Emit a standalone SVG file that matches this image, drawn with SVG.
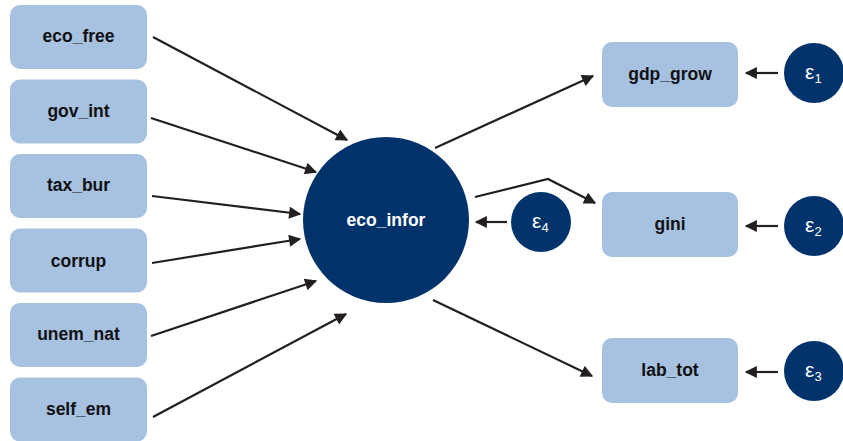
<svg xmlns="http://www.w3.org/2000/svg" width="843" height="441" viewBox="0 0 843 441">
<defs>
<style>
.box{fill:#a7c1e1;}
.lat{fill:#00336b;}
.lbl{font-family:"Liberation Sans",Arial,sans-serif;font-weight:bold;font-size:17.5px;fill:#111;text-anchor:middle;}
.lbl2{font-family:"Liberation Sans",Arial,sans-serif;font-weight:bold;font-size:17.5px;fill:#fff;text-anchor:middle;}
.eps{font-family:"Liberation Sans",Arial,sans-serif;font-size:21px;fill:#fff;}
.sub{font-size:13px;}
.conn{stroke:#231f20;stroke-width:2.2;fill:none;marker-end:url(#ah);}
</style>
<marker id="ah" viewBox="0 0 10 10" refX="9" refY="5" markerWidth="6" markerHeight="5.5" markerUnits="strokeWidth" orient="auto">
<path d="M0,0 L10,5 L0,10 z" fill="#231f20"/>
</marker>
</defs>
<g id="connectors">
<line class="conn" x1="153" y1="37" x2="347" y2="140"/>
<line class="conn" x1="151" y1="118" x2="316" y2="172"/>
<line class="conn" x1="152" y1="196" x2="300" y2="214"/>
<line class="conn" x1="152" y1="263" x2="300" y2="239"/>
<line class="conn" x1="151" y1="336" x2="316" y2="281"/>
<line class="conn" x1="153" y1="417" x2="346" y2="314"/>
<line class="conn" x1="435" y1="148" x2="593" y2="76"/>
<polyline class="conn" points="475,197 548,179 595,203"/>
<line class="conn" x1="433" y1="300" x2="592" y2="376"/>
<line class="conn" x1="507" y1="222" x2="476" y2="222"/>
<line class="conn" x1="778" y1="73" x2="746" y2="73"/>
<line class="conn" x1="778" y1="226" x2="746" y2="226"/>
<line class="conn" x1="778" y1="372" x2="746" y2="372"/>
</g>
<g id="eco_free"><rect class="box" x="10" y="5" width="137" height="64" rx="10"/><text class="lbl" x="78.5" y="42">eco_free</text></g>
<g id="gov_int"><rect class="box" x="10" y="79.5" width="137" height="64" rx="10"/><text class="lbl" x="78.5" y="116.5">gov_int</text></g>
<g id="tax_bur"><rect class="box" x="10" y="154" width="137" height="64" rx="10"/><text class="lbl" x="78.5" y="191">tax_bur</text></g>
<g id="corrup"><rect class="box" x="10" y="228.5" width="137" height="64" rx="10"/><text class="lbl" x="78.5" y="266.5">corrup</text></g>
<g id="unem_nat"><rect class="box" x="10" y="303" width="137" height="64" rx="10"/><text class="lbl" x="78.5" y="340">unem_nat</text></g>
<g id="self_em"><rect class="box" x="10" y="377.5" width="137" height="64" rx="10"/><text class="lbl" x="78.5" y="414.5">self_em</text></g>
<g id="eco_infor"><circle class="lat" cx="386" cy="220" r="83"/><text class="lbl2" x="386" y="226">eco_infor</text></g>
<g id="e4"><circle class="lat" cx="541" cy="222" r="30"/><text class="eps" x="532" y="228">ε<tspan class="sub" dy="4">4</tspan></text></g>
<g id="gdp_grow"><rect class="box" x="602" y="42" width="136" height="65" rx="10"/><text class="lbl" x="670" y="80">gdp_grow</text></g>
<g id="gini"><rect class="box" x="602" y="192" width="136" height="65" rx="10"/><text class="lbl" x="670" y="230">gini</text></g>
<g id="lab_tot"><rect class="box" x="602" y="338" width="136" height="65" rx="10"/><text class="lbl" x="670" y="376">lab_tot</text></g>
<g id="e1"><circle class="lat" cx="814" cy="73" r="30"/><text class="eps" x="805" y="79">ε<tspan class="sub" dy="4">1</tspan></text></g>
<g id="e2"><circle class="lat" cx="814" cy="226" r="30"/><text class="eps" x="805" y="232">ε<tspan class="sub" dy="4">2</tspan></text></g>
<g id="e3"><circle class="lat" cx="814" cy="371" r="30"/><text class="eps" x="805" y="377">ε<tspan class="sub" dy="4">3</tspan></text></g>
</svg>
